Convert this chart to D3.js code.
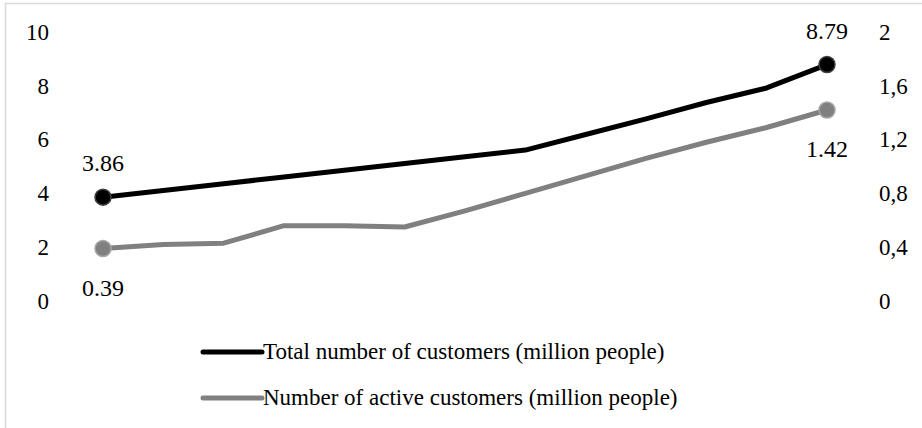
<!DOCTYPE html>
<html><head><meta charset="utf-8">
<script src="https://cdn.jsdelivr.net/npm/d3@7/dist/d3.min.js"></script>
<style>body{margin:0;background:#fff}</style>
</head><body><svg id="c" width="922" height="428"></svg>
<script>
const periods = d3.range(13);
const totalCustomers = [3.86,4.11,4.36,4.61,4.86,5.11,5.36,5.61,6.19,6.77,7.38,7.92,8.79];
const activeCustomers = [0.39,0.42,0.43,0.56,0.56,0.55,0.67,0.80,0.93,1.06,1.18,1.29,1.42];
const leftTicks = [0,2,4,6,8,10];
const rightTicks = [0,0.4,0.8,1.2,1.6,2];
const seriesNames = ["Total number of customers (million people)","Number of active customers (million people)"];

const FONT = '"Liberation Serif"';
const svg = d3.select("#c");
svg.append("rect").attr("x",5.5).attr("y",3.5).attr("width",930).attr("height",440)
  .attr("fill","none").attr("stroke","#d9d9d9").attr("stroke-width",1.5);

const x = d3.scaleLinear().domain([0,12]).range([103,827]);
const yL = d3.scaleLinear().domain([0,10]).range([301,32]);
const yR = d3.scaleLinear().domain([0,2]).range([301,32]);

const fmtR = d => d===0||d===2 ? String(d) : String(d).replace(".",",");
const axL = svg.append("g").attr("transform","translate(49,0)")
  .call(d3.axisLeft(yL).tickValues(leftTicks).tickSize(0).tickPadding(0));
const axR = svg.append("g").attr("transform","translate(879,0)")
  .call(d3.axisRight(yR).tickValues(rightTicks).tickFormat(fmtR).tickSize(0).tickPadding(0));
[axL,axR].forEach(a=>{a.select(".domain").remove();
  a.attr("font-family",null).attr("font-size",null);
  a.selectAll("text").style("font-family",FONT).style("font-size","23px").attr("fill","#000");});

const lineL = d3.line().x((d,i)=>x(periods[i])).y(d=>yL(d));
const lineR = d3.line().x((d,i)=>x(periods[i])).y(d=>yR(d));
svg.append("path").datum(activeCustomers).attr("d",lineR).attr("fill","none")
  .attr("stroke","#808080").attr("stroke-width",5).attr("stroke-linejoin","round");
svg.append("path").datum(totalCustomers).attr("d",lineL).attr("fill","none")
  .attr("stroke","#000").attr("stroke-width",5).attr("stroke-linejoin","round");

const ends = [0,12];
svg.selectAll(".mt").data(ends).join("circle").attr("cx",i=>x(i)).attr("cy",i=>yL(totalCustomers[i]))
  .attr("r",8).attr("fill","#000").attr("stroke","#404040").attr("stroke-width",1.5);
svg.selectAll(".ma").data(ends).join("circle").attr("cx",i=>x(i)).attr("cy",i=>yR(activeCustomers[i]))
  .attr("r",8).attr("fill","#808080").attr("stroke","#a6a6a6").attr("stroke-width",1.5);

const lab = svg.append("g");
ends.forEach(i=>{
  lab.append("text").attr("x",x(i)).attr("y",yL(totalCustomers[i])-26).text(totalCustomers[i].toFixed(2));
  lab.append("text").attr("x",x(i)).attr("y",yR(activeCustomers[i])+47).text(activeCustomers[i].toFixed(2));
});
lab.selectAll("text").attr("text-anchor","middle").style("font-family",FONT).style("font-size","24px").attr("fill","#000");

const leg = svg.append("g");
const legColors = ["#000","#808080"];
seriesNames.forEach((n,k)=>{
  const yy = 352 + k*46;
  leg.append("line").attr("x1",203).attr("x2",262).attr("y1",yy).attr("y2",yy)
    .attr("stroke",legColors[k]).attr("stroke-width",5).attr("stroke-linecap","round");
  leg.append("text").attr("x",263).attr("y",yy+7).text(n)
    .style("font-family",FONT).style("font-size","23px").attr("fill","#000");
});
</script></body></html>
